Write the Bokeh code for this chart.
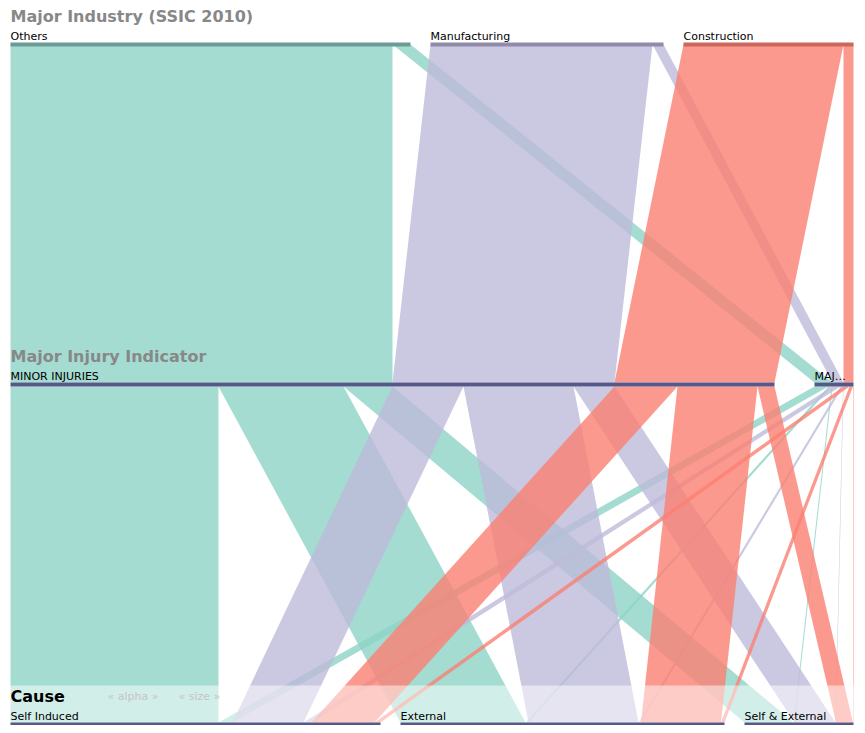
from bokeh.plotting import figure
from bokeh.models import Range1d, ColumnDataSource
from bokeh.core.properties import value
from bokeh.embed import file_html
from bokeh.resources import INLINE

# ---------------- data ----------------
dim_titles = ["Major Industry (SSIC 2010)", "Major Injury Indicator", "Cause"]
industries = ["Others", "Manufacturing", "Construction"]
injuries = ["MINOR INJURIES", "MAJOR INJURIES"]
causes = ["Self Induced", "External", "Self & External"]

# counts per cause (Self Induced, External, Self & External)
others_minor = [2080, 1250, 490]
others_major = [140, 30, 10]
manufacturing_minor = [710, 1100, 410]
manufacturing_major = [80, 25, 5]
construction_minor = [630, 800, 170]
construction_major = [60, 35, 5]

industry_colors = ["#8dd3c7", "#bebada", "#fb8072"]
industry_bar_colors = ["#6c9a94", "#8f8ca9", "#cc675e"]

counts = {
    ("Others", "MINOR INJURIES"): others_minor,
    ("Others", "MAJOR INJURIES"): others_major,
    ("Manufacturing", "MINOR INJURIES"): manufacturing_minor,
    ("Manufacturing", "MAJOR INJURIES"): manufacturing_major,
    ("Construction", "MINOR INJURIES"): construction_minor,
    ("Construction", "MAJOR INJURIES"): construction_major,
}

# ---------------- layout (parallel sets) ----------------
X0, WIDTH, SPACING = 10, 843, 40
DIM_Y = [44, 384, 724]
total = sum(sum(v) for v in counts.values())
usable = WIDTH - SPACING


def cat_layout(cats, cnts):
    n = len(cats)
    gap = SPACING / (n - 1)
    x = X0
    out = {}
    for c in cats:
        dx = cnts[c] / total * usable
        out[c] = [x, dx]
        x += dx + gap
    return out


ind_cnt = {i: sum(sum(counts[(i, j)]) for j in injuries) for i in industries}
inj_cnt = {j: sum(sum(counts[(i, j)]) for i in industries) for j in injuries}
cau_cnt = {c: sum(counts[(i, j)][k] for i in industries for j in injuries)
           for k, c in enumerate(causes)}

L_ind = cat_layout(industries, ind_cnt)
L_inj = cat_layout(injuries, inj_cnt)
L_cau = cat_layout(causes, cau_cnt)

scale = usable / total
xs, ys, cols = [], [], []

# upper ribbons: industry -> injury
ind_out = {i: L_ind[i][0] for i in industries}
inj_in = {j: L_inj[j][0] for j in injuries}
for ii, i in enumerate(industries):
    for j in injuries:
        w = sum(counts[(i, j)]) * scale
        sx = ind_out[i]; tx = inj_in[j]
        xs.append([sx, sx + w, tx + w, tx])
        ys.append([DIM_Y[0], DIM_Y[0], DIM_Y[1] - 2, DIM_Y[1] - 2])
        cols.append(industry_colors[ii])
        ind_out[i] += w; inj_in[j] += w

# lower ribbons: injury -> cause (colored by industry)
inj_out = {j: L_inj[j][0] for j in injuries}
cau_in = {c: L_cau[c][0] for c in causes}
ribbons = []
for j in injuries:
    for ii, i in enumerate(industries):
        for k, c in enumerate(causes):
            w = counts[(i, j)][k] * scale
            ribbons.append([ii, j, c, inj_out[j], w])
            inj_out[j] += w
tgt = {}
for c in causes:
    for ii, i in enumerate(industries):
        for j in injuries:
            w = counts[(i, j)][causes.index(c)] * scale
            tgt[(ii, j, c)] = cau_in[c]
            cau_in[c] += w
for ii, j, c, sx, w in sorted(ribbons, key=lambda r: r[0]):
    tx = tgt[(ii, j, c)]
    xs.append([sx, sx + w, tx + w, tx])
    ys.append([DIM_Y[1] + 2, DIM_Y[1] + 2, DIM_Y[2] - 2, DIM_Y[2] - 2])
    cols.append(industry_colors[ii])

# ---------------- figure ----------------
p = figure(width=857, height=725, output_backend="svg", toolbar_location=None,
           x_range=Range1d(0, 857), y_range=Range1d(725, 0),
           x_axis_location=None, y_axis_location=None, min_border=0)
p.grid.visible = False
p.outline_line_color = None
p.background_fill_color = "white"

p.patches(xs="xs", ys="ys", fill_color="c", fill_alpha=0.8, line_color=None,
          source=ColumnDataSource(dict(xs=xs, ys=ys, c=cols)))

# highlighted bottom dimension background
p.quad(left=[0], right=[865], top=[685], bottom=[740], fill_color="white",
       fill_alpha=0.5, line_color=None)

# category bars + labels
bl, br, bt, bb, bc = [], [], [], [], []
lx, ly, lt = [], [], []
for d, (cats, L) in enumerate([(industries, L_ind), (injuries, L_inj), (causes, L_cau)]):
    for ci, c in enumerate(cats):
        x, dx = L[c]
        bl.append(x); br.append(x + dx)
        bt.append(DIM_Y[d] - 2); bb.append(DIM_Y[d] + 2)
        bc.append(industry_bar_colors[ci] if d == 0 else "#555888")
        lab = c
        if len(lab) * 6.5 > dx:
            lab = lab[:max(1, int(dx / 6.5) - 3)] + "\u2026"
        lx.append(x); ly.append(DIM_Y[d] - 8); lt.append(lab)
p.quad(left=bl, right=br, top=bt, bottom=bb, fill_color=bc, line_color=None)
p.text(x=lx, y=ly, text=lt, text_font=value("DejaVu Sans"), text_font_size="11px",
       text_baseline="alphabetic", text_color="black")

# dimension titles
p.text(x=[10, 10], y=[DIM_Y[0] - 28, DIM_Y[1] - 28], text=dim_titles[:2],
       text_font=value("DejaVu Sans"), text_font_size="16px", text_font_style="bold",
       text_baseline="alphabetic", text_color="#888888")
p.text(x=[10], y=[DIM_Y[2] - 28], text=[dim_titles[2]],
       text_font=value("DejaVu Sans"), text_font_size="16px", text_font_style="bold",
       text_baseline="alphabetic", text_color="black")
p.text(x=[107, 178], y=[DIM_Y[2] - 28, DIM_Y[2] - 28],
       text=["\u00ab alpha \u00bb", "\u00ab size \u00bb"],
       text_font=value("DejaVu Sans"), text_font_size="11px",
       text_baseline="alphabetic", text_color="#c4c4c4")

open("out.html", "w").write(file_html(p, INLINE))
